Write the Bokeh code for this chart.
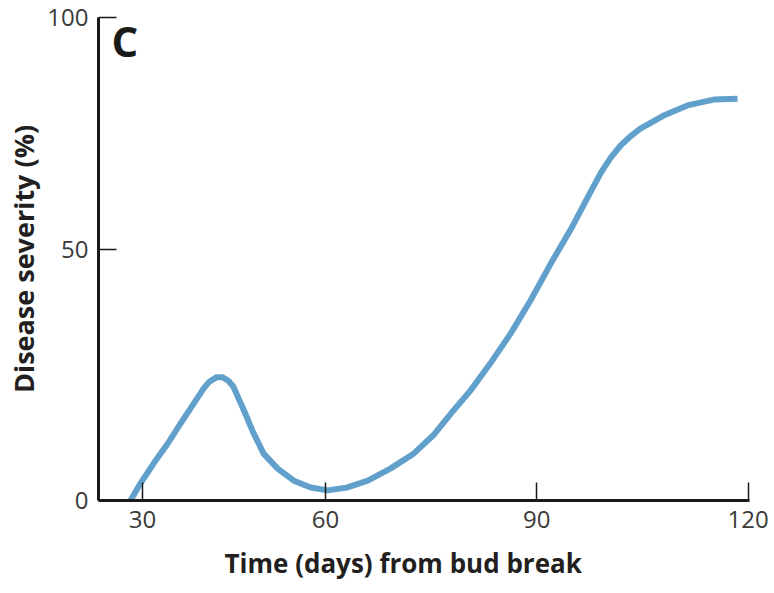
from bokeh.plotting import figure
from bokeh.models import Range1d, FixedTicker, Label, Title
from bokeh.embed import file_html
from bokeh.resources import INLINE

# Curve: days from bud break vs disease severity (%)
days = [32.3, 33.7, 35.6, 37.6, 39.4, 41.3, 42.7, 43.5, 44.5, 45.4, 46.2, 46.9,
        47.6, 48.6, 49.6, 51.2, 53.2, 55.5, 57.9, 60.3, 63.1, 66.0, 69.2, 72.5,
        75.3, 77.8, 80.6, 83.4, 86.3, 89.1, 92.0, 94.8, 97.6, 99.1, 100.5,
        101.9, 103.3, 104.7, 108.0, 111.4, 115.1, 118.5]
severity = [0.0, 3.5, 7.7, 11.8, 15.9, 20.1, 23.2, 24.6, 25.5, 25.5, 24.8, 23.6,
            21.3, 18.0, 14.5, 9.7, 6.6, 4.1, 2.7, 2.1, 2.7, 4.1, 6.6, 9.7,
            13.5, 18.0, 22.8, 28.4, 34.6, 41.4, 49.1, 56.1, 63.8, 67.9, 71.0,
            73.5, 75.4, 77.0, 79.7, 81.8, 83.0, 83.2]

# Tick positions as drawn in the figure (schematic axis) and their labels
x_tick_pos = [34, 60, 90, 120]
x_tick_labels = ["30", "60", "90", "120"]
y_tick_pos = [0, 52, 100]
y_tick_labels = ["0", "50", "100"]

FONT = "Open Sans"

p = figure(width=774, height=593,
           x_range=Range1d(27.76, 120.2), y_range=Range1d(0, 100),
           output_backend="svg", toolbar_location=None,
           min_border_left=98, min_border_right=25, min_border_top=17, min_border_bottom=93)
p.outline_line_color = None
p.xgrid.visible = False
p.ygrid.visible = False
p.background_fill_color = "white"
p.border_fill_color = "white"

p.line(days, severity, line_color="#62a0cc", line_width=6, line_join="round", line_cap="butt")

for ax in (p.xaxis[0], p.yaxis[0]):
    ax.axis_line_color = "#1a1a1a"
    ax.axis_line_width = 3
    ax.major_tick_line_color = "#1a1a1a"
    ax.major_tick_line_width = 1.5
    ax.major_tick_in = 18
    ax.major_tick_out = 0
    ax.minor_tick_line_color = None
    ax.major_label_text_font = FONT
    ax.major_label_text_font_size = "24px"
    ax.major_label_text_color = "#3a3a3a"
    ax.major_label_standoff = 10

p.xaxis.ticker = FixedTicker(ticks=x_tick_pos)
p.xaxis.major_label_overrides = {t: l for t, l in zip(x_tick_pos, x_tick_labels)}
p.yaxis.ticker = FixedTicker(ticks=y_tick_pos)
p.yaxis.major_label_overrides = {t: l for t, l in zip(y_tick_pos, y_tick_labels)}

p.yaxis.axis_label = "Disease severity (%)"
p.yaxis.axis_label_text_font = FONT
p.yaxis.axis_label_text_font_size = "27px"
p.yaxis.axis_label_text_font_style = "bold"
p.yaxis.axis_label_text_color = "#231f20"
p.yaxis.axis_label_standoff = 2

xt = Title(text="Time (days) from bud break", align="left", offset=126, standoff=24,
           text_font=FONT, text_font_size="26px", text_font_style="bold",
           text_color="#231f20")
p.add_layout(xt, "below")

p.add_layout(Label(x=29.6, y=95.3, text="C", text_font=FONT, text_font_size="42px",
                   text_font_style="bold", text_color="#1a1a1a",
                   text_baseline="alphabetic", text_align="left"))

open("out.html", "w").write(file_html(p, INLINE))
